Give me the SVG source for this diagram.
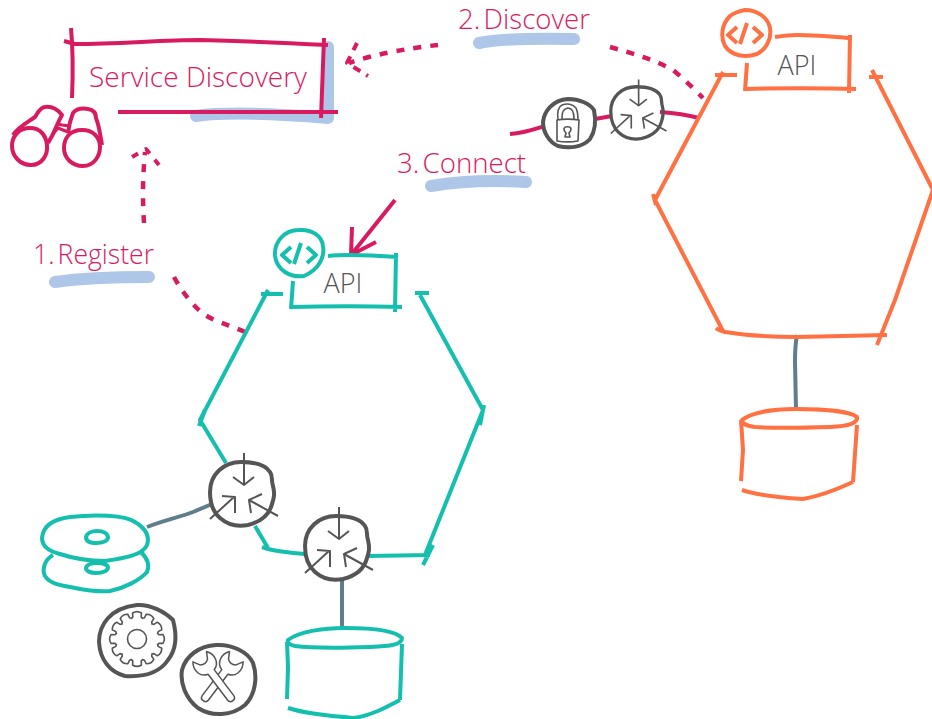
<svg xmlns="http://www.w3.org/2000/svg" width="932" height="719" viewBox="0 0 932 719">
<style>
text{font-family:"Open Sans","Lato","Liberation Sans",sans-serif;font-weight:300}
.lbl{fill:#d81b60;font-size:28px}
.num{word-spacing:-4px}
.api{fill:#555;font-size:27px;text-anchor:middle}
path,line,circle,ellipse{fill:none;stroke-linecap:butt;stroke-linejoin:round}
.pk{stroke:#d81b60;stroke-width:4}
.dash{stroke:#d81b60;stroke-width:4.5;stroke-dasharray:8 9}
.or{stroke:#ff7043;stroke-width:4}
.gr{stroke:#14bfae;stroke-width:4}
.link{stroke:#607d8b;stroke-width:4}
.hl{stroke:#aec6e8;stroke-width:12;stroke-linecap:round}
.blob{stroke:#555;stroke-width:4;fill:#fff}
.thin{stroke:#555;stroke-width:2}
.fine{stroke:#555;stroke-width:1.6}
</style>
<defs>
<path id="blob" d="M-32,-2C-32,-20-18,-32-1,-32C8,-32 22,-31 28,-22C31,-18 29,-14 31,-8C33,0 32,4 30,10C27,22 18,28 6,31C-4,33-14,31-22,24C-29,18-32,10-32,-2Z"/>
<g id="compass" class="thin">
<path d="M2,-41V-9M-9,-17L2,-9L12,-17"/>
<path d="M-32,25L-8,3M-20,2L-7,3V19"/>
<path d="M36,22L7,6M20,0L7,6L9,19"/>
</g>
<g id="codeicon">
<path d="M-8,-6L-17,2L-8,10M2,-10L-5,11M8,-6L17,2L8,10" style="stroke-width:4"/>
</g>
<path id="tooth" class="fine" d="M20.3,-5.9Q21.5,-4.5 22,-4.2L26,-4.4Q28.8,0 26,4.4L22,4.2Q21.5,4.5 20.3,5.9"/>
<path id="wrench" class="fine" style="fill:#fff" d="M-4,-12V22Q-4,26 0,26Q4,26 4,22V-12C12,-14 15,-24 9,-32L5,-25Q0,-21 -5,-25L-9,-32C-15,-24-12,-14-4,-12Z"/>
</defs>

<g id="connectors">
<path class="dash" d="M174,277C182,292 192,304 202,313C215,322 230,325 247,333"/>
<path class="dash" d="M144,223C143,205 142,185 145,152"/>
<path class="pk" d="M132,157L146,149L159,165" style="stroke-dasharray:7 8"/>
<path class="dash" d="M438,45C410,48 375,54 349,63"/>
<path class="pk" d="M357,43L347,63L368,76" style="stroke-dasharray:8 7"/>
<path class="dash" d="M610,47C635,54 655,60 673,70C685,80 695,90 703,98"/>
<path class="pk" d="M510,134C525,133 535,129 545,126M595,119L612,116M660,112C675,113 688,115 699,118"/>
<path class="pk" d="M395,200L351,255M352,227L351,255L376,242"/>
<path class="link" d="M147,527C165,520 180,517 193,512L212,504"/>
<path class="link" d="M342,578V628"/>
<path class="link" d="M797,335C795,345 795,352 795,362L796,409"/>
</g>

<g id="service-discovery">
<path class="hl" d="M196,116C225,112 280,114 328,118V47"/>
<path class="pk" d="M71,28C73,50 73,75 72,98"/>
<path class="pk" d="M64,41L75,44C120,44 160,40 200,40C245,41 290,43 328,45"/>
<path class="pk" d="M324,38L321,118"/>
<path class="pk" d="M118,112H338"/>
<text class="lbl" x="89" y="87" textLength="218" lengthAdjust="spacingAndGlyphs">Service Discovery</text>
</g>

<g id="binoculars">
<path class="pk" d="M30,128C19,128 12,136 12,146C12,156 20,165 31,165C42,165 48,155 47,145C46,135 40,128 30,128Z"/>
<path class="pk" d="M82,130C70,130 64,138 64,148C64,158 72,166 83,166C94,166 100,156 100,147C100,137 93,130 82,130Z"/>
<path class="pk" d="M13,135C18,127 28,122 35,117C38,113 39,108 45,107C52,106 58,110 62,115C58,122 55,130 52,136L48,143"/>
<path class="pk" d="M68,133C69,125 71,118 73,113C76,109 82,108 88,109C94,110 96,113 96,118C99,125 100,133 102,145"/>
<path class="pk" style="stroke-width:3" d="M58,124L62,125L70,126M53,134L58,128L68,132"/>
</g>

<g id="label-register"><path class="hl" d="M55,282C75,279 95,277 149,277"/><text class="lbl num" x="33" y="264" textLength="121" lengthAdjust="spacingAndGlyphs">1. Register</text></g>
<g id="label-discover"><path class="hl" d="M479,43C500,39 530,38 574,39"/><text class="lbl num" x="458" y="29" textLength="132" lengthAdjust="spacingAndGlyphs">2. Discover</text></g>
<g id="label-connect"><path class="hl" d="M431,186C455,182 490,180 526,182"/><text class="lbl num" x="397" y="173" textLength="129" lengthAdjust="spacingAndGlyphs">3. Connect</text></g>

<g id="hex-green">
<path class="gr" d="M261,294H283M268,290L200,420L226,463M255,526L268,548"/>
<path class="gr" d="M205,410L199,426M262,547L268,549C280,552 292,553 305,554M368,556L430,555M423,565L433,545M484,405L480,425M425,555L483,410L420,295M415,293H429"/>
</g>
<g id="api-green">
<path class="gr" d="M328,256C345,254 370,255 398,257M396,253L395,312M290,307C325,306 370,306 402,307M293,281L291,309"/>
<text class="api" x="343" y="293">API</text>
<path class="gr" d="M299,230C312,229 322,236 323,246C325,258 318,270 304,276C290,278 277,270 275,256C274,242 284,230 299,230Z"/>
<use href="#codeicon" class="gr" x="299" y="253"/>
</g>
<g id="compass-1"><use href="#blob" class="blob" x="242" y="494"/><use href="#compass" x="242" y="494"/></g>
<g id="compass-2"><use href="#blob" class="blob" x="337" y="548"/><use href="#compass" x="337" y="548"/></g>

<g id="disks">
<path class="gr" d="M53,555C44,560 42,570 45,576C50,584 60,585 75,588C90,591 100,592 110,591C125,588 140,580 147,572C150,565 147,558 141,552"/>
<path class="gr" d="M86,568C87,564 92,563 97,563C104,563 108,565 108,568C107,572 102,573 96,573C90,573 86,571 86,568Z"/>
<path class="gr" style="fill:#fff" d="M42,538C43,525 55,519 70,517C95,514 125,515 135,522C145,528 150,536 147,545C143,555 125,558 105,561C90,561 75,559 60,554C48,551 42,546 42,538Z"/>
<path class="gr" d="M86,537C87,533 92,531 97,531C104,531 108,534 108,538C107,542 102,543 96,543C90,543 86,541 86,537Z"/>
</g>

<g id="db-green">
<path class="gr" d="M288,640C300,631 325,628 345,628C370,628 395,630 402,638C402,645 390,646 370,647C340,648 310,648 295,646C290,645 287,643 288,640Z"/>
<path class="gr" d="M287,642L288,667L287,699M402,644L400,700M288,708C310,715 335,716 353,718C370,716 385,708 400,700"/>
</g>

<g id="gear">
<path class="blob" d="M137,605C150,604 165,612 173,620C177,635 176,650 168,660C158,675 140,677 125,676C110,672 100,660 99,642C99,625 110,608 137,605Z"/>
<circle cx="137" cy="639" r="9.5" class="fine"/>
<g transform="translate(137,639)">
<use href="#tooth"/><use href="#tooth" transform="rotate(30)"/><use href="#tooth" transform="rotate(60)"/><use href="#tooth" transform="rotate(90)"/><use href="#tooth" transform="rotate(120)"/><use href="#tooth" transform="rotate(150)"/><use href="#tooth" transform="rotate(180)"/><use href="#tooth" transform="rotate(210)"/><use href="#tooth" transform="rotate(240)"/><use href="#tooth" transform="rotate(270)"/><use href="#tooth" transform="rotate(300)"/><use href="#tooth" transform="rotate(330)"/>
</g>
</g>
<g id="tools">
<path class="blob" d="M216,645C232,644 248,652 253,663C258,678 255,695 245,705C232,716 212,717 198,708C185,698 180,682 182,670C186,655 200,646 216,645Z"/>
<g transform="translate(218,681) scale(0.95)"><use href="#wrench" transform="rotate(37)"/><use href="#wrench" transform="rotate(-37)"/></g>
</g>

<g id="hex-orange">
<path class="or" d="M715,75H737M723,72L655,200L723,331M653,194L656,205M716,328C718,330 722,331 725,332C750,336 775,337 797,337L887,335M895,300L877,345M872,70L933,190L895,300M869,77H883"/>
</g>
<g id="api-orange">
<path class="or" d="M775,37C782,36 790,35 797,35C815,35 835,37 852,38M850,35L849,93M745,89C780,88 825,88 856,89M747,63L745,91"/>
<text class="api" x="797" y="75">API</text>
<path class="or" d="M745,10C758,10 768,18 770,28C772,40 765,50 757,54C745,58 732,56 725,46C720,36 722,24 730,16C735,12 740,11 745,10Z"/>
<use href="#codeicon" class="or" x="745" y="33"/>
</g>
<g id="db-orange">
<path class="or" d="M742,420C752,412 775,409 796,409C820,409 850,411 857,417C858,423 850,426 830,427C800,428 770,428 755,427C746,426 742,423 742,420Z"/>
<path class="or" d="M741,420L743,450L741,481M857,425L853,482M742,490C760,496 785,498 803,499C820,496 838,489 853,482"/>
</g>

<g id="lock">
<path class="blob" d="M568,99C580,99 590,104 594,110C596,120 596,130 590,139C583,147 570,149 558,146C549,142 543,132 543,122C544,112 552,100 568,99Z"/>
<path class="fine" d="M558,120C557,112 558,107 562,105C567,103 573,104 576,108C578,112 578,116 578,120"/>
<path class="fine" d="M562,119C562,112 563,109 568,108C572,108 574,112 574,119"/>
<path class="fine" d="M557,120C563,119 572,119 579,120L578,141C572,142 563,142 557,141Z"/>
<path class="fine" d="M564,129C564,126 571,126 571,129C571,132 569,132 569,133L570,137H565L566,133C566,132 564,132 564,129Z"/>
</g>
<g id="compass-3"><use href="#blob" class="blob" transform="translate(637,113) scale(0.82)"/><use href="#compass" transform="translate(637,113) scale(0.82)"/></g>
</svg>
